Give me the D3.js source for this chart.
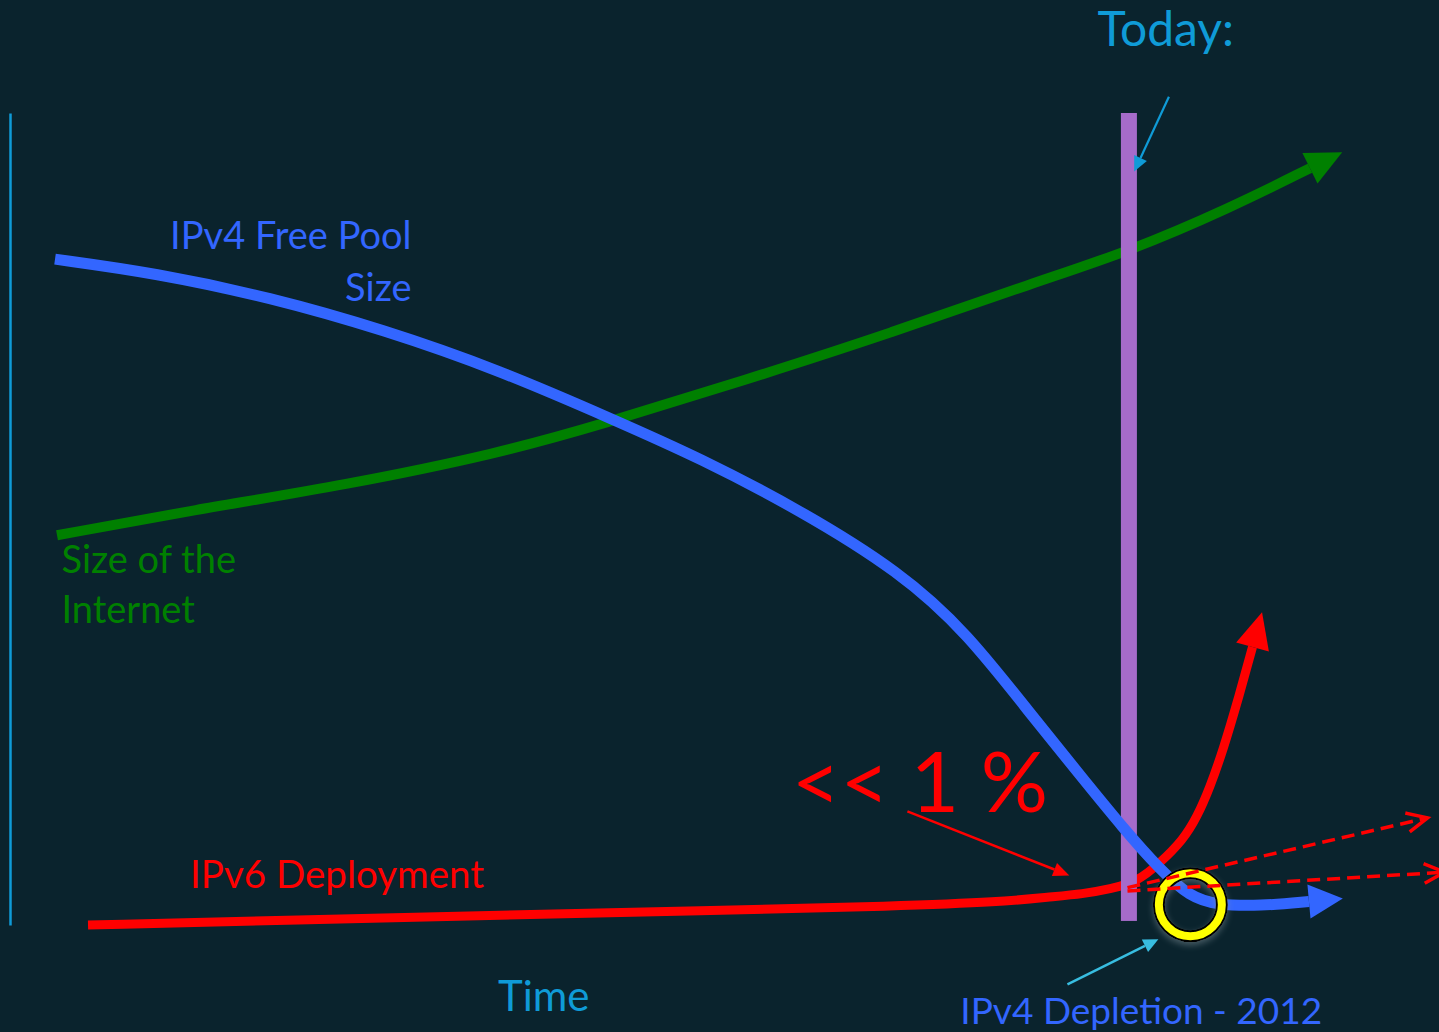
<!DOCTYPE html>
<html>
<head>
<meta charset="utf-8">
<script src="https://cdn.jsdelivr.net/npm/d3@7"></script>
<style>
  html, body { margin: 0; padding: 0; background: #0a232d; }
  svg { display: block; }
  text { font-family: Lato, "Open Sans", sans-serif; }
</style>
</head>
<body>
<svg id="chart" width="1439" height="1032"></svg>
<script>
// Conceptual curves on an abstract time (0-100) / size (0-100) plane.
const ipv4FreePool = [
  [3.15, 82.0], [10.15, 80.3], [18.19, 77.3], [26.17, 73.3], [34.22, 68.35],
  [42.27, 62.2], [48.29, 57.5], [55.28, 51.1], [62.28, 43.5], [66.97, 36.0],
  [71.59, 25.6], [75.23, 17.7], [77.82, 12.1], [80.48, 6.8], [82.58, 3.45],
  [84.46, 2.46], [87.47, 2.34], [90.9, 2.89]
];
const internetSize = [
  [3.29, 48.0], [12.81, 51.1], [23.51, 54.2], [34.22, 58.1], [41.29, 61.6],
  [51.43, 67.1], [61.65, 72.9], [71.8, 79.2], [78.24, 82.9], [85.37, 88.3],
  [90.97, 93.2]
];
const ipv6Deployment = [
  [5.46, 0.0], [20.29, 0.62], [34.29, 1.23], [48.29, 1.72], [62.28, 2.34],
  [69.28, 2.83], [72.78, 3.45], [75.09, 3.82], [76.98, 4.43], [78.87, 5.3],
  [80.48, 7.64], [82.09, 10.47], [83.07, 13.3], [83.98, 17.0], [84.89, 21.55],
  [85.93, 27.7], [86.95, 34.24]
];
// Alternative IPv6 growth paths after today
const ipv6Projections = [
  [[78.2, 4.6], [99.2, 13.2]],
  [[78.2, 4.2], [100.4, 6.5]]
];
const today = 78.3;
const depletion = [82.6, 2.5];

const svg = d3.select("#chart");

const x = d3.scaleLinear().domain([0, 100]).range([10, 1439]);
const y = d3.scaleLinear().domain([0, 100]).range([925, 113]);

const colors = {
  cyan: "#0f9bd7",
  blue: "#3366ff",
  green: "#008000",
  red: "#ff0000",
  purple: "#a66bca",
  yellow: "#ffff00",
  pointer: "#38bde0"
};

// Arrowhead markers
const defs = svg.append("defs");
function arrowMarker(id, color, len, half) {
  defs.append("marker")
    .attr("id", id)
    .attr("markerUnits", "userSpaceOnUse")
    .attr("markerWidth", len + 4).attr("markerHeight", half * 2 + 4)
    .attr("refX", 0).attr("refY", 0)
    .attr("viewBox", `0 ${-half - 2} ${len + 4} ${half * 2 + 4}`)
    .attr("orient", "auto")
    .style("overflow", "visible")
    .append("path")
    .attr("d", `M0,${-half} L${len},0 L0,${half} Z`)
    .attr("fill", color);
}
arrowMarker("head-blue", colors.blue, 34, 17);
arrowMarker("head-green", colors.green, 36, 17);
arrowMarker("head-red", colors.red, 36, 17);
arrowMarker("tip-cyan", colors.cyan, 15, 7);
arrowMarker("tip-pointer", colors.pointer, 15, 7);
arrowMarker("tip-red", colors.red, 16, 7);

defs.append("marker")
  .attr("id", "open-red")
  .attr("markerUnits", "userSpaceOnUse")
  .attr("markerWidth", 30).attr("markerHeight", 30)
  .attr("refX", 0).attr("refY", 0)
  .attr("viewBox", "-25 -15 30 30")
  .attr("orient", "auto")
  .style("overflow", "visible")
  .append("path")
  .attr("d", "M-19,-9 L0,0 L-19,9")
  .attr("fill", "none")
  .attr("stroke", colors.red)
  .attr("stroke-width", 3.5)
  .attr("stroke-linecap", "square");

const glow = defs.append("filter").attr("id", "ring-shadow")
  .attr("x", "-50%").attr("y", "-50%").attr("width", "200%").attr("height", "200%");
glow.append("feDropShadow")
  .attr("dx", 0).attr("dy", 3).attr("stdDeviation", 3)
  .attr("flood-color", "#8a9aa0").attr("flood-opacity", 0.45);

// Vertical axis
svg.append("g")
  .attr("transform", `translate(${x(0)},0)`)
  .call(d3.axisLeft(y).tickValues([]).tickSizeOuter(0))
  .call(g => g.select(".domain").attr("stroke", colors.cyan).attr("stroke-width", 2.5));

const line = d3.line()
  .x(d => x(d[0])).y(d => y(d[1]))
  .curve(d3.curveBasis);

svg.append("path").datum(internetSize)
  .attr("d", line).attr("fill", "none")
  .attr("stroke", colors.green).attr("stroke-width", 10)
  .attr("marker-end", "url(#head-green)");

svg.append("path").datum(ipv6Deployment)
  .attr("d", line).attr("fill", "none")
  .attr("stroke", colors.red).attr("stroke-width", 9)
  .attr("marker-end", "url(#head-red)");

// Today marker
svg.append("rect")
  .attr("x", x(today) - 8).attr("width", 16)
  .attr("y", y(100)).attr("height", y(0.5) - y(100))
  .attr("fill", colors.purple);

svg.append("path").datum(ipv4FreePool)
  .attr("d", line).attr("fill", "none")
  .attr("stroke", colors.blue).attr("stroke-width", 11)
  .attr("marker-end", "url(#head-blue)");

// Depletion ring
const ring = svg.append("g").attr("filter", "url(#ring-shadow)");
ring.append("circle")
  .attr("cx", x(depletion[0])).attr("cy", y(depletion[1])).attr("r", 31.5)
  .attr("fill", "none").attr("stroke", "#000").attr("stroke-width", 12);
ring.append("circle")
  .attr("cx", x(depletion[0])).attr("cy", y(depletion[1])).attr("r", 31.5)
  .attr("fill", "none").attr("stroke", colors.yellow).attr("stroke-width", 8);

svg.selectAll(".projection").data(ipv6Projections).join("path")
  .attr("class", "projection")
  .attr("d", d3.line().x(d => x(d[0])).y(d => y(d[1])))
  .attr("fill", "none")
  .attr("stroke", colors.red).attr("stroke-width", 3.5)
  .attr("stroke-dasharray", "13 7")
  .attr("marker-end", "url(#open-red)");

// Annotation pointers
const pointers = [
  { from: [81.1, 102.0], to: [78.7, 92.9], color: colors.cyan, marker: "tip-cyan", w: 2.2 },
  { from: [74.0, -7.3], to: [80.3, -1.8], color: colors.pointer, marker: "tip-pointer", w: 2.5 },
  { from: [62.8, 14.0], to: [74.0, 6.2], color: colors.red, marker: "tip-red", w: 2.5 }
];
pointers.forEach(p => {
  const x1 = x(p.from[0]), y1 = y(p.from[1]);
  const x2 = x(p.to[0]), y2 = y(p.to[1]);
  const len = Math.hypot(x2 - x1, y2 - y1);
  const k = (len - 14) / len;
  svg.append("line")
    .attr("x1", x1).attr("y1", y1)
    .attr("x2", x1 + (x2 - x1) * k).attr("y2", y1 + (y2 - y1) * k)
    .attr("stroke", p.color).attr("stroke-width", p.w)
    .attr("marker-end", `url(#${p.marker})`);
});

// Labels
const labels = [
  { text: "Today:", at: [76.1, 108.25], size: 48, color: colors.cyan, anchor: "start" },
  { text: "IPv4 Free Pool", at: [28.1, 83.2], size: 38, color: colors.blue, anchor: "end" },
  { text: "Size", at: [28.1, 76.9], size: 38, color: colors.blue, anchor: "end" },
  { text: "Size of the", at: [3.6, 43.4], size: 38, color: colors.green, anchor: "start" },
  { text: "Internet", at: [3.6, 37.2], size: 38, color: colors.green, anchor: "start" },
  { text: "IPv6 Deployment", at: [12.6, 4.6], size: 38.5, color: colors.red, anchor: "start" },
  { text: "<< 1 %", at: [54.7, 13.9], size: 84, color: colors.red, anchor: "start" },
  { text: "Time", at: [34.15, -10.6], size: 42, color: colors.cyan, anchor: "start" },
  { text: "IPv4 Depletion - 2012", at: [66.5, -12.2], size: 37, color: colors.blue, anchor: "start" }
];
svg.selectAll(".label").data(labels).join("text")
  .attr("class", "label")
  .attr("x", d => x(d.at[0])).attr("y", d => y(d.at[1]))
  .attr("text-anchor", d => d.anchor)
  .attr("font-size", d => d.size)
  .attr("fill", d => d.color)
  .text(d => d.text);
</script>
</body>
</html>
